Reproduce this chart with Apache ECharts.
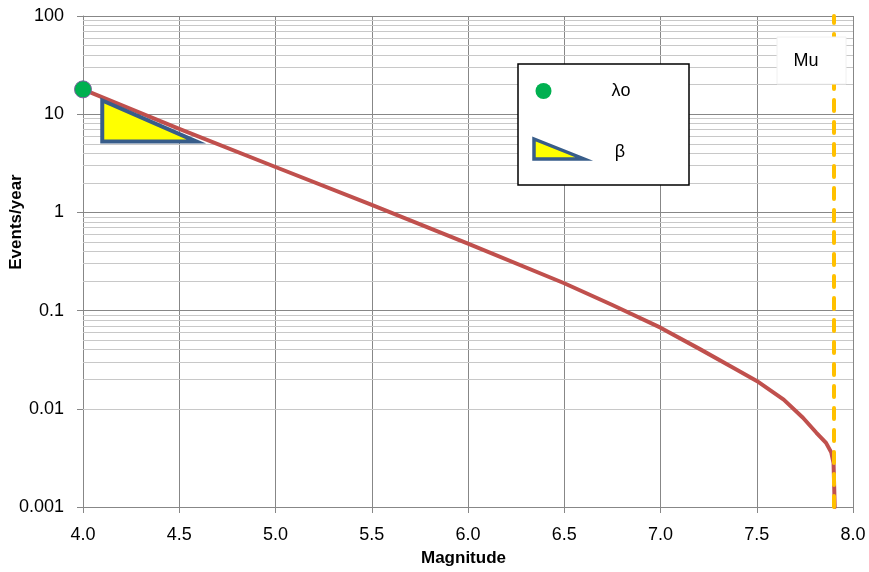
<!DOCTYPE html>
<html>
<head>
<meta charset="utf-8">
<title>Magnitude recurrence</title>
<script src="https://cdn.jsdelivr.net/npm/echarts@6/dist/echarts.min.js"></script>
<style>
  html, body { margin: 0; padding: 0; background: #ffffff; }
  #chart { width: 869px; height: 572px; }
</style>
</head>
<body>
<div id="chart"></div>
<script>
// Annual rate of events above each magnitude (truncated recurrence curve)
const magnitudes    = [4.0, 4.5, 5.0, 5.5, 6.0, 6.5, 6.75, 7.0, 7.2, 7.38, 7.5, 7.64, 7.74, 7.81, 7.86, 7.887, 7.899, 7.905];
const eventsPerYear = [17.9, 7.1, 2.9, 1.19, 0.48, 0.19, 0.114, 0.067, 0.041, 0.0261, 0.0192, 0.0124, 0.0081, 0.0057, 0.0045, 0.0036, 0.0028, 0.001];

// Activity rate at the minimum magnitude (λo)
const lambda0Magnitude = [4.0];
const lambda0Rate      = [17.9];

// Slope marker (β): corner magnitudes and rates
const betaMagnitudes = [4.1, 4.59];
const betaRates      = [13.8, 5.26];

// Maximum magnitude (Mu)
const muMagnitude = [7.9];

// Axis ticks
const xTickValues = [4.0, 4.5, 5.0, 5.5, 6.0, 6.5, 7.0, 7.5, 8.0];
const xTickLabels = ['4.0', '4.5', '5.0', '5.5', '6.0', '6.5', '7.0', '7.5', '8.0'];
const yTickValues = [0.001, 0.01, 0.1, 1, 10, 100];
const yTickLabels = ['0.001', '0.01', '0.1', '1', '10', '100'];

const FONT = "'Liberation Sans', Arial, Helvetica, sans-serif";
const MAJOR = '#878787';
const MINOR = '#c8c8c8';

// Minor horizontal gridlines at 2..9 within each decade
const minorLines = [];
for (let d = 0; d < yTickValues.length - 1; d++) {
  for (let k = 2; k <= 9; k++) {
    minorLines.push({ yAxis: +(k * yTickValues[d]).toPrecision(6) });
  }
}

function labelFor(values, labels, v) {
  for (let i = 0; i < values.length; i++) {
    if (Math.abs(values[i] - v) < 1e-9 * Math.max(1, Math.abs(v))) return labels[i];
  }
  return '';
}

const chart = echarts.init(document.getElementById('chart'), null, { renderer: 'canvas' });

chart.setOption({
  animation: false,
  backgroundColor: '#ffffff',
  textStyle: { fontFamily: FONT },
  grid: { left: 83, right: 16, top: 16, bottom: 65, containLabel: false, outerBoundsMode: 'none' },
  xAxis: {
    type: 'value',
    min: 4,
    max: 8,
    interval: 0.5,
    axisLine: { show: true, lineStyle: { color: MAJOR, width: 1 } },
    axisTick: { show: true, length: 6, lineStyle: { color: MAJOR, width: 1 } },
    axisLabel: {
      margin: 19, fontSize: 18, color: '#000000', fontFamily: FONT,
      formatter: v => labelFor(xTickValues, xTickLabels, v)
    },
    splitLine: { show: true, lineStyle: { color: MAJOR, width: 1 } },
    name: 'Magnitude',
    nameLocation: 'middle',
    nameGap: 43,
    nameTextStyle: { fontSize: 17, fontWeight: 'bold', color: '#000000', fontFamily: FONT, padding: [0, 9, 0, 0] }
  },
  yAxis: {
    type: 'log',
    logBase: 10,
    min: 0.001,
    max: 100,
    axisLine: { show: true, lineStyle: { color: MAJOR, width: 1 } },
    axisTick: { show: true, length: 6, lineStyle: { color: MAJOR, width: 1 } },
    axisLabel: {
      margin: 19, fontSize: 18, color: '#000000', fontFamily: FONT,
      formatter: v => labelFor(yTickValues, yTickLabels, v)
    },
    splitLine: { show: true, lineStyle: { color: MAJOR, width: 1 } },
    minorTick: { show: false },
    minorSplitLine: { show: false }
  },
  series: [
    {
      // light gridlines between decades
      type: 'line',
      data: [],
      z: 1,
      silent: true,
      markLine: {
        z: 1,
        silent: true,
        symbol: 'none',
        label: { show: false },
        animation: false,
        lineStyle: { color: MINOR, type: 'solid', width: 1 },
        emphasis: { disabled: true },
        data: minorLines
      }
    },
    {
      name: 'Recurrence',
      type: 'line',
      data: magnitudes.map((m, i) => [m, eventsPerYear[i]]),
      symbol: 'none',
      smooth: false,
      clip: true,
      z: 3,
      lineStyle: { color: '#c0504d', width: 4, cap: 'round', join: 'round' }
    },
    {
      name: 'Mu',
      type: 'line',
      data: [],
      z: 4,
      markLine: {
        z: 4,
        silent: true,
        symbol: 'none',
        label: { show: false },
        animation: false,
        emphasis: { disabled: true },
        lineStyle: { color: '#ffc000', width: 4, type: [11, 11], cap: 'round' },
        data: muMagnitude.map(m => ({ xAxis: m }))
      }
    },
    {
      name: 'β',
      type: 'custom',
      z: 5,
      silent: true,
      encode: { x: [0, 2], y: [1, 3] },
      data: [[betaMagnitudes[0], betaRates[0], betaMagnitudes[1], betaRates[1]]],
      renderItem: function (params, api) {
        const top = api.coord([api.value(0), api.value(1)]);
        const corner = api.coord([api.value(0), api.value(3)]);
        const tip = api.coord([api.value(2), api.value(3)]);
        return {
          type: 'polygon',
          shape: { points: [top, corner, tip] },
          style: { fill: '#ffff00', stroke: '#385d8a', lineWidth: 4, lineJoin: 'miter', miterLimit: 10 }
        };
      }
    },
    {
      name: 'λo',
      type: 'scatter',
      z: 6,
      symbol: 'circle',
      symbolSize: 17,
      data: lambda0Magnitude.map((m, i) => [m, lambda0Rate[i]]),
      itemStyle: { color: '#00b050', borderColor: '#8064a2', borderWidth: 1, opacity: 1 }
    }
  ],
  graphic: [
    // y-axis title
    {
      type: 'text', x: 16, y: 222, rotation: Math.PI / 2, z: 100,
      style: { text: 'Events/year', fill: '#000000', font: "bold 17px " + FONT, align: 'center', verticalAlign: 'middle' }
    },
    // legend box
    {
      type: 'rect', z: 100,
      shape: { x: 518, y: 64, width: 171, height: 121 },
      style: { fill: '#ffffff', stroke: '#000000', lineWidth: 1.5 }
    },
    {
      type: 'circle', z: 101,
      shape: { cx: 543.5, cy: 91, r: 8 },
      style: { fill: '#00b050' }
    },
    {
      type: 'text', x: 621, y: 91, z: 101,
      style: { text: 'λo', fill: '#000000', font: "18px " + FONT, align: 'center', verticalAlign: 'middle' }
    },
    {
      type: 'polygon', z: 101,
      shape: { points: [[534, 139], [534, 159], [584, 159]] },
      style: { fill: '#ffff00', stroke: '#385d8a', lineWidth: 3.5, lineJoin: 'miter' }
    },
    {
      type: 'text', x: 620, y: 152, z: 101,
      style: { text: 'β', fill: '#000000', font: "18px " + FONT, align: 'center', verticalAlign: 'middle' }
    },
    // Mu label
    {
      type: 'rect', z: 100,
      shape: { x: 777, y: 37, width: 69, height: 47 },
      style: { fill: '#ffffff', stroke: '#f0f0f0', lineWidth: 1 }
    },
    {
      type: 'text', x: 806, y: 61, z: 101,
      style: { text: 'Mu', fill: '#000000', font: "18px " + FONT, align: 'center', verticalAlign: 'middle' }
    }
  ]
});
</script>
</body>
</html>
